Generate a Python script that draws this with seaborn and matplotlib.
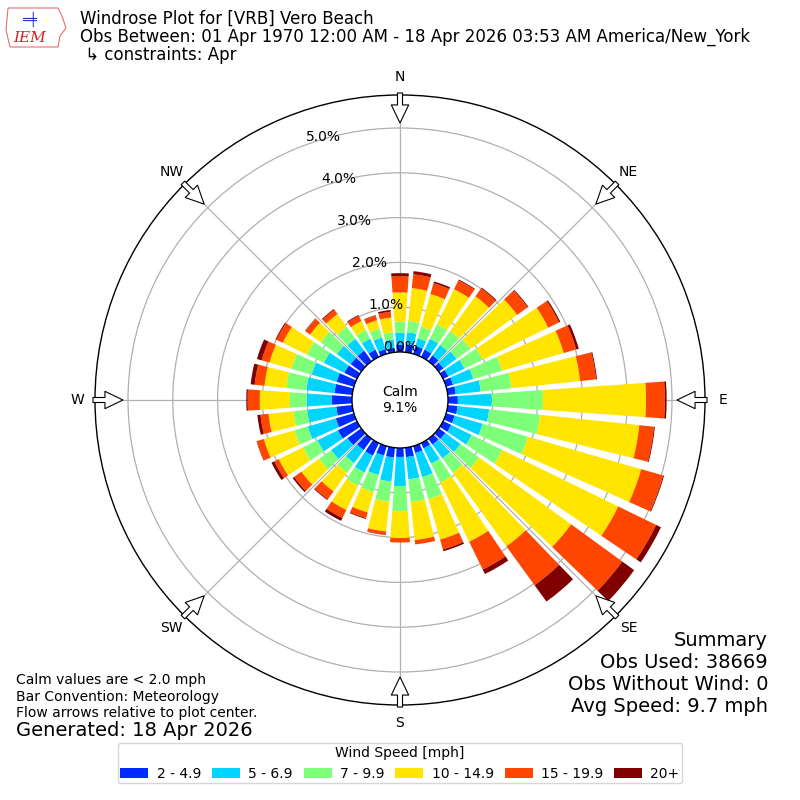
import numpy as np
import pandas as pd
import matplotlib
matplotlib.use('Agg')
import matplotlib.pyplot as plt
import seaborn as sns
from matplotlib.patches import Patch, Circle, Polygon
from matplotlib.transforms import offset_copy

# wind directions (deg, meteorological) and speed bins
directions = np.arange(0, 360, 10)
speed_bins = ['2 - 4.9', '5 - 6.9', '7 - 9.9', '10 - 14.9', '15 - 19.9', '20+']

# frequency [%] per direction for each speed bin
pct_2_5 = [0.16, 0.18, 0.18, 0.18, 0.16, 0.13, 0.13, 0.16, 0.18, 0.22, 0.22, 0.20,
           0.20, 0.18, 0.16, 0.13, 0.16, 0.21, 0.20, 0.22, 0.22, 0.31, 0.31, 0.38,
           0.47, 0.42, 0.36, 0.45, 0.40, 0.40, 0.31, 0.29, 0.29, 0.18, 0.11, 0.10]
pct_5_7 = [0.27, 0.27, 0.18, 0.27, 0.29, 0.36, 0.40, 0.47, 0.56, 0.76, 0.71, 0.65,
           0.51, 0.42, 0.38, 0.38, 0.56, 0.50, 0.65, 0.54, 0.45, 0.42, 0.36, 0.45,
           0.51, 0.65, 0.65, 0.56, 0.63, 0.58, 0.51, 0.38, 0.33, 0.27, 0.27, 0.19]
pct_7_10 = [0.25, 0.25, 0.27, 0.36, 0.38, 0.38, 0.45, 0.67, 0.69, 1.14, 1.14, 1.05,
            0.76, 0.51, 0.40, 0.47, 0.51, 0.51, 0.56, 0.45, 0.40, 0.33, 0.27, 0.33,
            0.36, 0.31, 0.31, 0.38, 0.45, 0.47, 0.42, 0.45, 0.33, 0.22, 0.20, 0.16]
pct_10_15 = [0.65, 0.74, 0.76, 0.87, 0.96, 1.29, 1.63, 1.43, 1.54, 2.30, 2.23, 2.63,
             2.88, 2.54, 2.03, 1.47, 0.94, 0.85, 0.60, 0.67, 0.47, 0.60, 0.51, 0.49,
             0.60, 0.71, 0.56, 0.67, 0.49, 0.51, 0.60, 0.29, 0.35, 0.22, 0.20, 0.33]
pct_15_20 = [0.36, 0.31, 0.25, 0.22, 0.22, 0.29, 0.27, 0.29, 0.36, 0.42, 0.33, 0.51,
             0.94, 1.41, 1.07, 0.69, 0.23, 0.10, 0.10, 0.07, 0.13, 0.20, 0.22, 0.20,
             0.11, 0.16, 0.18, 0.27, 0.22, 0.18, 0.16, 0.13, 0.12, 0.13, 0.11, 0.13]
pct_20_up = [0.07, 0.07, 0.04, 0.02, 0.02, 0.02, 0.03, 0.06, 0.02, 0.04, 0.02, 0.02,
             0.12, 0.33, 0.45, 0.11, 0.04, 0.00, 0.00, 0.01, 0.02, 0.07, 0.02, 0.04,
             0.07, 0.01, 0.07, 0.03, 0.09, 0.11, 0.02, 0.01, 0.02, 0.02, 0.01, 0.04]

ring_ticks = [0, 1, 2, 3, 4, 5]
compass = ['N', 'NE', 'E', 'SE', 'S', 'SW', 'W', 'NW']
compass_deg = [0, 45, 90, 135, 180, 225, 270, 315]
calm_pct = 9.1

summary_lines = ['Summary', 'Obs Used: 38669', 'Obs Without Wind: 0', 'Avg Speed: 9.7 mph']
note_lines = ['Calm values are < 2.0 mph', 'Bar Convention: Meteorology',
              'Flow arrows relative to plot center.']

colors = ['#002bff', '#00d4ff', '#7dff7a', '#ffe500', '#ff4600', '#800000']

df = pd.DataFrame({'dir': directions, speed_bins[0]: pct_2_5, speed_bins[1]: pct_5_7,
                   speed_bins[2]: pct_7_10, speed_bins[3]: pct_10_15,
                   speed_bins[4]: pct_15_20, speed_bins[5]: pct_20_up})

sns.set_style('white')
plt.rcParams['font.family'] = ['DejaVu Sans']
plt.rcParams['text.color'] = 'black'
plt.rcParams['xtick.color'] = 'black'
plt.rcParams['ytick.color'] = 'black'

# radial geometry: 1 % == 1 radial unit, bars start at the calm circle
R0 = 48 / 44.8
RMAX = 305 / 44.8

fig = plt.figure(figsize=(8, 8), dpi=100)
ax = fig.add_axes([0.11875, 0.11875, 0.7625, 0.7625], projection='polar')
ax.set_theta_zero_location('N')
ax.set_theta_direction(-1)

theta = np.deg2rad(df['dir'].to_numpy())
width = np.deg2rad(10) * 0.8
bottom = np.full(len(df), R0)
for name, col in zip(speed_bins, colors):
    vals = df[name].to_numpy()
    ax.bar(theta, vals, width=width, bottom=bottom, color=col, linewidth=0, zorder=1)
    bottom = bottom + vals

ax.set_ylim(0, RMAX)
ax.set_yticks(R0 + np.array(ring_ticks))
ax.set_yticklabels([])
ax.set_xticks(np.deg2rad(compass_deg))
ax.set_xticklabels([''] * len(compass_deg))
ax.grid(True, color='#b0b0b0', lw=0.9)
ax.spines['polar'].set_color('black')
ax.spines['polar'].set_linewidth(1.0)

# ring labels, drawn above the bars
lab_tr = offset_copy(ax.transData, fig=fig, x=17.7, y=8.3, units='dots')
for t in ring_ticks:
    ax.text(np.deg2rad(-20.3), R0 + t, f'{t:.1f}%', transform=lab_tr, ha='center',
            va='center', fontsize=10, zorder=6)

# calm circle
ax.add_patch(Circle((0.5, 0.5), 48 / 610, transform=ax.transAxes, fc='white',
                    ec='black', lw=1.0, zorder=3))
ax.text(0.5, 0.5, f'Calm\n{calm_pct:.1f}%', transform=ax.transAxes, ha='center',
        va='center', fontsize=10, zorder=4)

# compass labels and flow arrows
for lab, deg in zip(compass, compass_deg):
    t = np.deg2rad(deg)
    ax.text(t, 323 / 44.8, lab, ha='center', va='center', fontsize=10)
    ax.annotate('', xy=(t, 277 / 44.8), xytext=(t, 307 / 44.8),
                arrowprops=dict(arrowstyle='simple,head_length=1.3,head_width=1.25,tail_width=0.36',
                                fc='white', ec='black', lw=0.8, shrinkA=0, shrinkB=0),
                annotation_clip=False, zorder=5)

# header
fig.text(0.1, 1 - 19 / 800, 'Windrose Plot for [VRB] Vero Beach', fontsize=12, va='center')
fig.text(0.1, 1 - 37 / 800,
         'Obs Between: 01 Apr 1970 12:00 AM - 18 Apr 2026 03:53 AM America/New_York',
         fontsize=12, va='center')
fig.text(0.1, 1 - 55 / 800, ' \u21b3 constraints: Apr', fontsize=12, va='center')

# rough IEM logo
logo = Polygon([(8 / 800, 1 - 8 / 800), (58 / 800, 1 - 8 / 800), (62 / 800, 1 - 16 / 800),
                (66 / 800, 1 - 28 / 800), (60 / 800, 1 - 36 / 800), (58 / 800, 1 - 47 / 800),
                (10 / 800, 1 - 47 / 800), (6 / 800, 1 - 30 / 800)],
               closed=True, fill=False, ec='#e07070', lw=0.8, transform=fig.transFigure)
fig.patches.append(logo)
fig.text(30 / 800, 1 - 38 / 800, 'IEM', color='#d42020', fontsize=11, family='serif',
         style='italic', ha='center', va='center')
fig.text(30 / 800, 1 - 19 / 800, '\u2550\u256a', color='#2030c0', fontsize=9,
         ha='center', va='center')

# footer notes
for i, line in enumerate(note_lines):
    fig.text(16 / 800, 1 - (680 + 16.5 * i) / 800, line, fontsize=10, va='center')
fig.text(16 / 800, 1 - 730 / 800, 'Generated: 18 Apr 2026', fontsize=14, va='center')
for i, line in enumerate(summary_lines):
    fig.text(768 / 800, 1 - (640 + 22 * i) / 800, line, fontsize=14, ha='right', va='center')

handles = [Patch(facecolor=c, edgecolor='none', label=l) for c, l in zip(colors, speed_bins)]
fig.legend(handles=handles, loc='lower center', bbox_to_anchor=(0.5, 0.012), ncol=6,
           title='Wind Speed [mph]', fontsize=10, title_fontsize=10, frameon=True,
           edgecolor='#cccccc', columnspacing=0.8, handletextpad=0.6, handlelength=2.0,
           borderpad=0.2)

fig.savefig('out.png', dpi=100)
